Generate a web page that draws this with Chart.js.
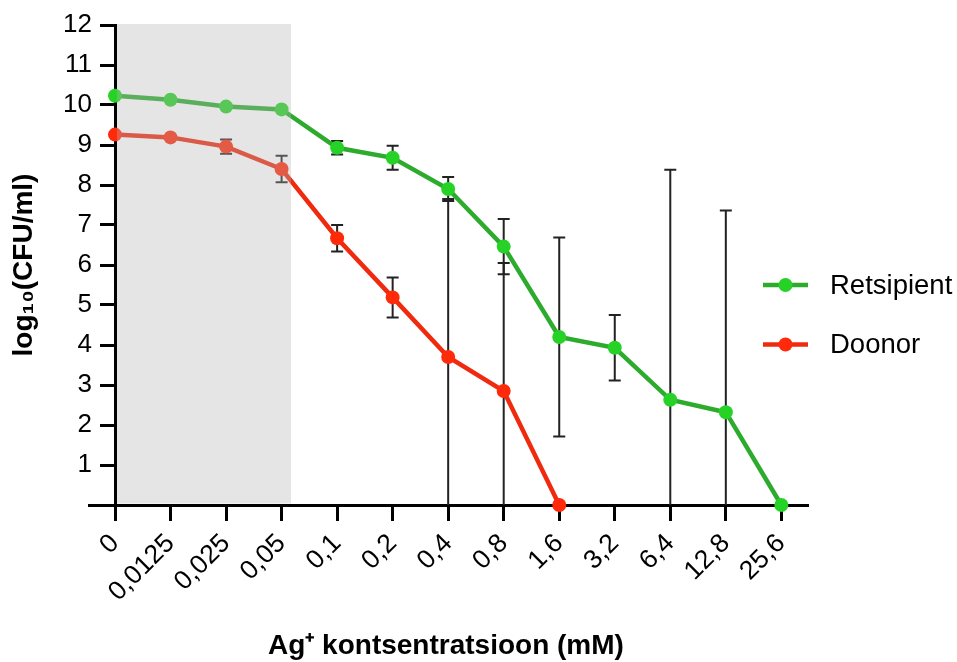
<!DOCTYPE html>
<html><head><meta charset="utf-8">
<script src="https://cdn.jsdelivr.net/npm/chart.js@4"></script>
<style>html,body{margin:0;padding:0;background:#fff}#wrap{width:957px;height:662px;position:relative}</style>
</head><body><div id="wrap"><canvas id="c"></canvas></div>
<script>
// ---- data ----
const categories = ['0','0,0125','0,025','0,05','0,1','0,2','0,4','0,8','1,6','3,2','6,4','12,8','25,6'];
const retsipient   = [10.23, 10.13, 9.96, 9.89, 8.93, 8.68, 7.90, 6.46, 4.20, 3.93, 2.63, 2.32, 0];
const retsipientSD = [0, 0, 0, 0, 0.17, 0.30, 0.30, 0.69, 2.49, 0.82, 5.75, 5.04, 0];
const doonor   = [9.26, 9.19, 8.96, 8.40, 6.67, 5.19, 3.70, 2.85, 0];
const doonorSD = [0, 0, 0.18, 0.33, 0.33, 0.50, 3.95, 3.20, 0];
const yTickValues = [1,2,3,4,5,6,7,8,9,10,11,12];
const seriesLabels = ['Retsipient', 'Doonor'];
const shadedUntil = 3.17; // shaded region spans categories 0 .. just past 0,05

const lineColors  = ['#2cab2c', '#ef2a0e'];
const pointColors = ['#27d227', '#ff2a0a'];
const errColor = '#222';
const FONT = "'Liberation Sans', Arial, Helvetica, sans-serif";

const toPts = arr => arr.map((v, i) => ({x: i, y: v}));
const errs = [retsipientSD, doonorSD];

const errorBars = {
  id: 'errorBars',
  beforeDatasetsDraw(chart) {
    const {ctx, chartArea: a, scales: {x, y}} = chart;
    ctx.save();
    ctx.beginPath();
    ctx.rect(a.left, a.top - 3, a.right - a.left, a.bottom - a.top + 3);
    ctx.clip();
    ctx.strokeStyle = errColor;
    ctx.lineWidth = 2;
    chart.data.datasets.forEach((ds, di) => {
      const sd = errs[di];
      ds.data.forEach((p, i) => {
        const s = sd[i];
        if (!s) return;
        const px = x.getPixelForValue(p.x);
        const yt = y.getPixelForValue(p.y + s);
        const yb = y.getPixelForValue(p.y - s);
        ctx.beginPath();
        ctx.moveTo(px, yt); ctx.lineTo(px, yb);
        ctx.moveTo(px - 6, yt); ctx.lineTo(px + 6, yt);
        ctx.moveTo(px - 6, yb); ctx.lineTo(px + 6, yb);
        ctx.stroke();
      });
    });
    ctx.restore();
  }
};

const shade = {
  id: 'shade',
  afterDatasetsDraw(chart) {
    const {ctx, chartArea: a, scales: {x}} = chart;
    const x0 = x.getPixelForValue(0) + 2;
    const x1 = x.getPixelForValue(shadedUntil);
    ctx.save();
    ctx.fillStyle = 'rgba(180,180,180,0.35)';
    ctx.fillRect(x0, a.top - 1, x1 - x0, a.bottom - a.top - 0.5);
    ctx.restore();
  }
};

const axisExtend = {
  id: 'axisExtend',
  afterDraw(chart) {
    const {ctx, chartArea: a, scales: {x}} = chart;
    const yv = (x._borderValue !== undefined) ? x._borderValue : a.bottom;
    ctx.save();
    ctx.strokeStyle = '#000';
    ctx.lineWidth = 3;
    ctx.beginPath();
    ctx.moveTo(a.left - 27, yv);
    ctx.lineTo(a.left + 1, yv);
    ctx.stroke();
    ctx.restore();
  }
};

const sideLegend = {
  id: 'sideLegend',
  afterDraw(chart) {
    const {ctx, chartArea: a} = chart;
    const lx0 = a.right - 45, lx1 = a.right, y0 = 285, dy = 59.5;
    ctx.save();
    chart.data.datasets.forEach((ds, i) => {
      const yy = y0 + i * dy;
      ctx.strokeStyle = ds.borderColor;
      ctx.lineWidth = 4.5;
      ctx.beginPath(); ctx.moveTo(lx0, yy); ctx.lineTo(lx1, yy); ctx.stroke();
      ctx.fillStyle = ds.pointBackgroundColor;
      ctx.beginPath(); ctx.arc((lx0 + lx1) / 2, yy, 7, 0, Math.PI * 2); ctx.fill();
      ctx.fillStyle = '#000';
      ctx.font = '27.5px ' + FONT;
      ctx.textAlign = 'left';
      ctx.textBaseline = 'middle';
      ctx.fillText(ds.label, a.right + 22, yy + 1);
    });
    ctx.restore();
  }
};

const mkDs = (i, vals) => ({
  label: seriesLabels[i],
  data: toPts(vals),
  borderColor: lineColors[i],
  backgroundColor: pointColors[i],
  pointBackgroundColor: pointColors[i],
  pointBorderWidth: 0,
  pointRadius: 7,
  pointHoverRadius: 7,
  borderWidth: 4.5,
  tension: 0,
  clip: false
});

new Chart(document.getElementById('c'), {
  type: 'line',
  data: { datasets: [mkDs(0, retsipient), mkDs(1, doonor)] },
  options: {
    responsive: true,
    maintainAspectRatio: false,
    animation: false,
    events: [],
    layout: { padding: { left: 0, right: 149, top: 25, bottom: 0 } },
    plugins: { legend: { display: false }, tooltip: { enabled: false } },
    scales: {
      x: {
        type: 'linear',
        min: 0,
        max: 12.48,
        afterBuildTicks: s => { s.ticks = categories.map((_, i) => ({value: i})); },
        afterFit: s => { s.height = 157; },
        grid: { drawOnChartArea: false, drawTicks: true, tickLength: 16, tickWidth: 3, tickColor: '#000' },
        border: { color: '#000', width: 3 },
        ticks: {
          autoSkip: false, maxRotation: 45, minRotation: 45, padding: 7,
          color: '#000', font: { family: FONT, size: 26.5 },
          callback: v => categories[v]
        },
        title: {
          display: true, text: 'Ag\u207A kontsentratsioon (mM)    ', color: '#000',
          font: { family: FONT, size: 28, weight: 'bold', lineHeight: 1.1 },
          padding: { top: 0, bottom: 0 }
        }
      },
      y: {
        type: 'linear',
        min: 0, max: 12,
        afterBuildTicks: s => { s.ticks = yTickValues.map(v => ({value: v})); },
        afterFit: s => { s.width = 115; },
        grid: { drawOnChartArea: false, drawTicks: true, tickLength: 15, tickWidth: 3, tickColor: '#000' },
        border: { color: '#000', width: 3 },
        ticks: { padding: 8, color: '#000', font: { family: FONT, size: 26 } },
        title: {
          display: true, text: 'log\u2081\u2080(CFU/ml)', color: '#000',
          font: { family: FONT, size: 28, weight: 'bold', lineHeight: 1.1 },
          padding: { top: 9, bottom: 0 }
        }
      }
    }
  },
  plugins: [errorBars, shade, axisExtend, sideLegend]
});
</script></body></html>
